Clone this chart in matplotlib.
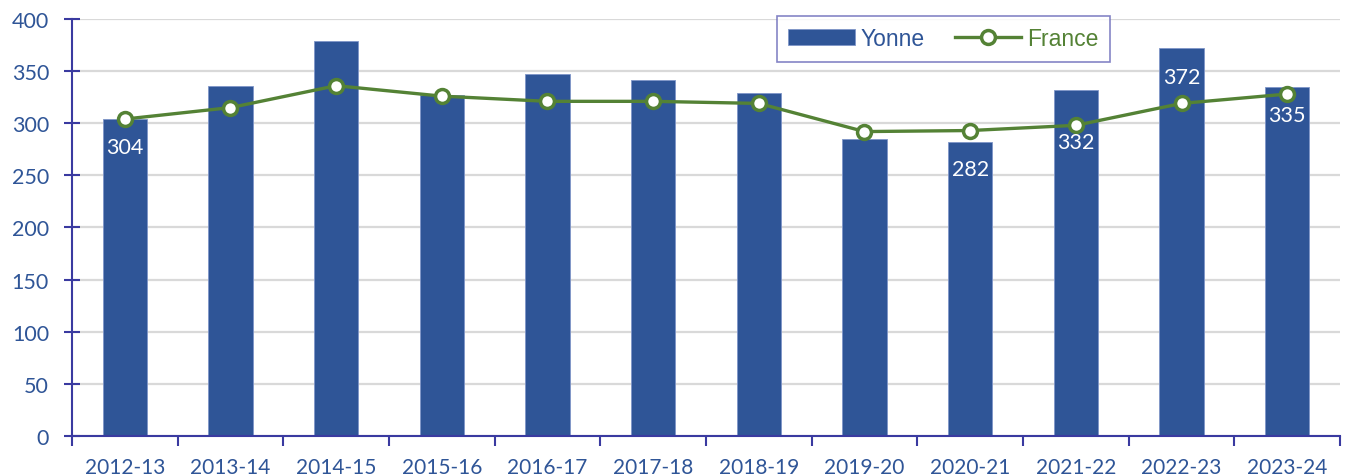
import matplotlib.pyplot as plt
import numpy as np

# donnees
annees = ["2012-13", "2013-14", "2014-15", "2015-16", "2016-17", "2017-18",
          "2018-19", "2019-20", "2020-21", "2021-22", "2022-23", "2023-24"]
yonne = [304, 336, 379, 327, 347, 341, 329, 285, 282, 332, 372, 335]
france = [304, 315, 336, 326, 321, 321, 319, 292, 293, 298, 319, 328]
# etiquettes affichees : indice -> position verticale du texte
etiquettes = {0: 277, 8: 256, 9: 282, 10: 344, 11: 308}

bleu = "#2F5597"
vert = "#548235"
axe = "#3A3AA0"

plt.rcParams['font.family'] = ['Lato', 'DejaVu Sans']

fig = plt.figure(figsize=(13.5, 4.77), dpi=100)
ax = fig.add_axes([0.0533, 0.0839, 0.9393, 0.8742])

x = np.arange(len(annees))
barres = ax.bar(x, yonne, width=0.42, color=bleu, edgecolor="#7F95C8",
                linewidth=0.6, label="Yonne", zorder=2)
ligne, = ax.plot(x, france, color=vert, linewidth=2.4, marker="o", markersize=10,
                 markerfacecolor="white", markeredgecolor=vert,
                 markeredgewidth=2.5, label="France", zorder=3)

for i, ypos in etiquettes.items():
    ax.text(x[i], ypos, str(yonne[i]), ha="center", va="center",
            color="white", fontsize=15.5, zorder=4)

ax.set_xlim(-0.5, len(annees) - 0.5)
ax.set_ylim(0, 400)
ax.set_yticks(range(0, 401, 50))
ax.yaxis.grid(True, color="#D9D9D9", linewidth=1.6, zorder=0)
ax.set_axisbelow(True)

# ticks x entre les categories
ax.set_xticks(np.arange(-0.5, len(annees), 1.0))
ax.set_xticklabels([])
ax.set_xticks(x, minor=True)
ax.set_xticklabels(annees, minor=True)
ax.tick_params(axis="x", which="major", direction="out", length=7,
               width=1.5, color=axe)
ax.tick_params(axis="x", which="minor", length=0, pad=15,
               labelsize=15, labelcolor=bleu)
ax.tick_params(axis="y", direction="inout", length=11, width=1.5,
               color=axe, labelsize=15.5, labelcolor=bleu, pad=11)

for s in ["top", "right"]:
    ax.spines[s].set_visible(False)
for s in ["left", "bottom"]:
    ax.spines[s].set_color(axe)
    ax.spines[s].set_linewidth(1.5)

leg = ax.legend([barres, ligne], ["Yonne", "France"],
                loc="upper left", bbox_to_anchor=(0.556, 1.008), ncol=2,
                frameon=True, fancybox=False,
                prop={"family": "Liberation Sans", "size": 16.5},
                handlelength=2.9, columnspacing=1.3, handletextpad=0.25,
                borderpad=0.5, borderaxespad=0)
leg.get_frame().set_edgecolor("#6666B8")
leg.get_frame().set_linewidth(1.2)
for t, c in zip(leg.get_texts(), [bleu, vert]):
    t.set_color(c)

fig.savefig("out.png", dpi=100)
